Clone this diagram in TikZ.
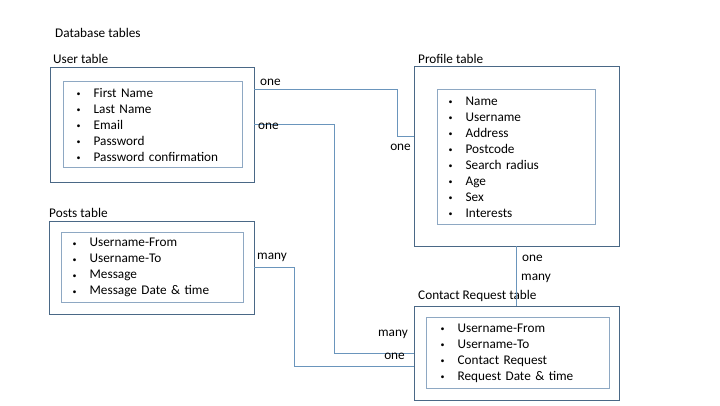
\documentclass[tikz,border=0pt]{standalone}
\usepackage{fontspec}
\setmainfont{Carlito}
\usetikzlibrary{positioning}

\definecolor{outerblue}{HTML}{4A6886}
\definecolor{innerblue}{HTML}{8EA8C3}
\definecolor{linkblue}{HTML}{6A95BC}

\newcommand{\entry}[1]{\makebox[17bp][l]{\raisebox{0.1ex}{\scalebox{0.6}{\textbullet}}}#1}

\tikzset{
  table/.style={draw=outerblue, line width=0.9pt, rectangle},
  listbox/.style={draw=innerblue, line width=1.3pt, rectangle, anchor=north west, inner xsep=12bp, align=left},
  link/.style={draw=linkblue, line width=0.9pt},
  tag/.style={inner sep=0pt}
}

\begin{document}
\begin{tikzpicture}[x=1bp, y=-1bp, font=\fontsize{13.3}{16}\selectfont]
    \useasboundingbox (0, 0) rectangle (720, 405);

    \node[tag, anchor=west] (title) at (55, 33) {Database tables};

    % user table
    \node[tag, anchor=west] (user-title) at (53, 59) {User table};
    \node[table, minimum width=204bp, minimum height=115bp] (user) at (152, 124.5) {};
    \node[listbox, text width=153bp, minimum height=86bp, inner xsep=13bp] (user-list) at (63, 81) {%
        \entry{First Name}\\ \entry{Last Name}\\ \entry{Email}\\
        \entry{Password}\\ \entry{Password confirmation}};

    % profile table
    \node[tag, anchor=west] (profile-title) at (418, 59) {Profile table};
    \node[table, minimum width=205bp, minimum height=180bp] (profile) at (516.5, 156) {};
    \node[listbox, text width=136bp, minimum height=135bp, inner xsep=11bp] (profile-list) at (437, 89) {%
        \entry{Name}\\ \entry{Username}\\ \entry{Address}\\ \entry{Postcode}\\
        \entry{Search radius}\\ \entry{Age}\\ \entry{Sex}\\ \entry{Interests}};

    % posts table
    \node[tag, anchor=west] (posts-title) at (49, 213) {Posts table};
    \node[table, minimum width=205bp, minimum height=93bp] (posts) at (151.5, 267.5) {};
    \node[listbox, text width=160bp, minimum height=70bp, inner xsep=11bp] (posts-list) at (61, 232) {%
        \entry{Username-From}\\ \entry{Username-To}\\ \entry{Message}\\
        \entry{Message Date \& time}};

    % contact request table
    \node[tag, anchor=west] (contact-title) at (418, 296) {Contact Request table};
    \node[table, minimum width=205bp, minimum height=94bp] (contact) at (516.5, 353) {};
    \node[listbox, text width=155bp, minimum height=71bp, inner xsep=14bp] (contact-list) at (426, 317) {%
        \entry{Username-From}\\ \entry{Username-To}\\ \entry{Contact Request}\\
        \entry{Request Date \& time}};

    % relations
    \draw[link] ([yshift=35.5bp]user.east) -- ++(143, 0) |- ([yshift=20bp]profile.west);
    \draw[link] ([yshift=0.5bp]user.east) -- ++(80, 0) |- (contact.west);
    \draw[link] (posts.east) -- ++(40, 0) |- ([yshift=-13bp]contact.west);
    \draw[link] (contact.north) -- (contact.north |- profile.south);

    \node[tag, anchor=west] (one-a) at (260, 82) {one};
    \node[tag, anchor=east] (one-b) at (411, 147) {one};
    \node[tag, anchor=west] (one-c) at (258, 126) {one};
    \node[tag, anchor=west] (many-a) at (257, 257) {many};
    \node[tag, anchor=east] (many-b) at (408, 334) {many};
    \node[tag, anchor=east] (one-d) at (405, 356) {one};
    \node[tag, anchor=west] (one-e) at (522, 258) {one};
    \node[tag, anchor=west] (many-c) at (521, 278) {many};
\end{tikzpicture}
\end{document}
